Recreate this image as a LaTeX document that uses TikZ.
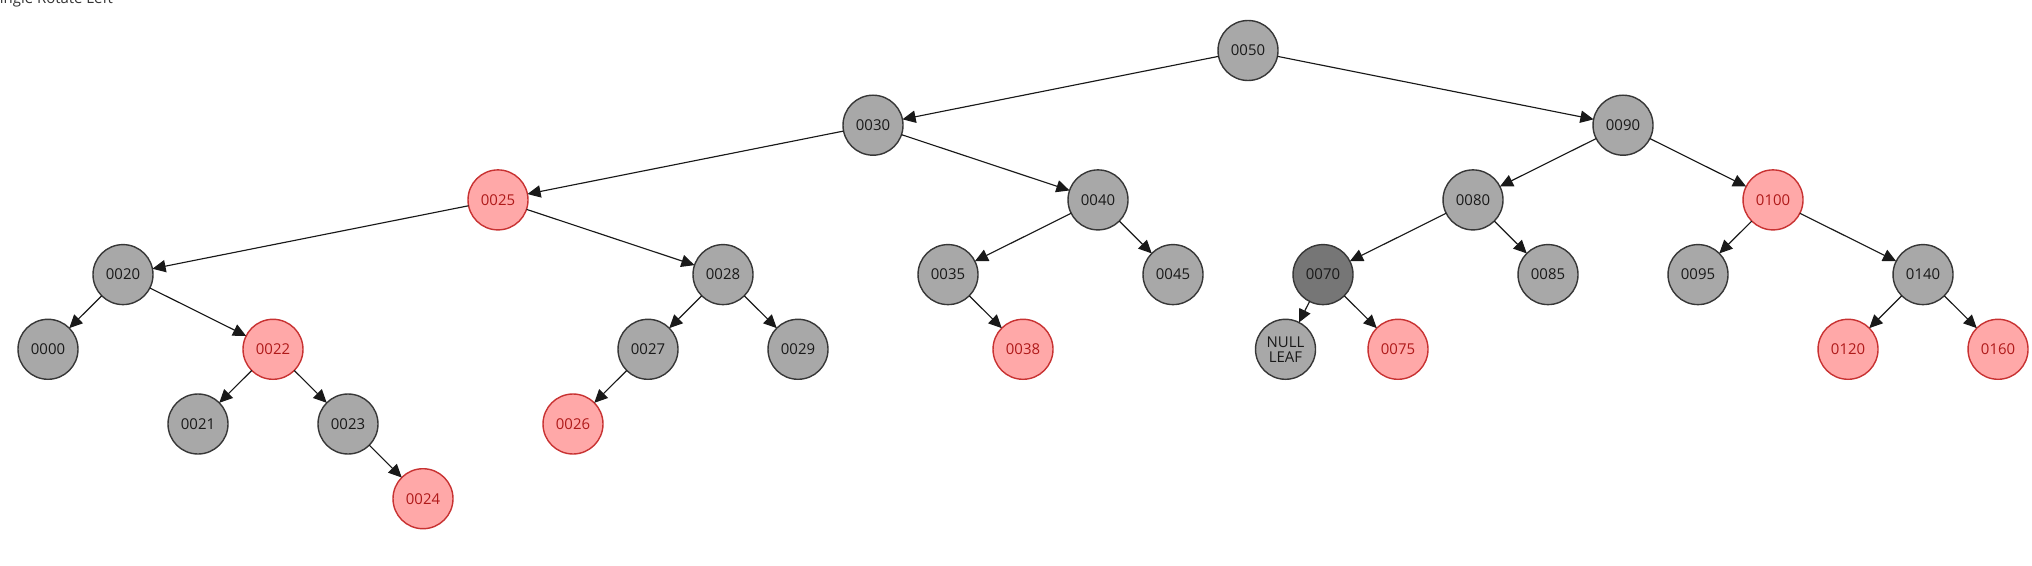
\documentclass[tikz,border=0pt]{standalone}
\usepackage{fontspec}
\setmainfont{Open Sans}
\usepackage{xcolor}
\usepackage{tikz}
\usetikzlibrary{positioning,arrows.meta}
\definecolor{nodeblk}{RGB}{168,168,168}
\definecolor{nodered}{RGB}{255,168,168}
\definecolor{nodecur}{RGB}{118,118,118}
\definecolor{edgeblk}{RGB}{55,55,55}
\definecolor{edgered}{RGB}{200,50,50}
\definecolor{textred}{RGB}{175,25,25}
\tikzset{
  blknode/.style = {circle, minimum size=1.2cm, inner sep=0pt, outer sep=0pt,
                    fill=nodeblk, draw=edgeblk, line width=0.8pt,
                    font=\fontsize{8.5}{9.5}\selectfont, text=black!90},
  rednode/.style = {circle, minimum size=1.2cm, inner sep=0pt, outer sep=0pt,
                    fill=nodered, draw=edgered, line width=0.8pt,
                    font=\fontsize{8.5}{9.5}\selectfont, text=textred},
  curnode/.style = {blknode, fill=nodecur},
  nilnode/.style = {blknode, align=center},
  treeedge/.style = {-{Triangle[length=7.5pt,width=7pt]}, line width=0.65pt, black!90}
}
\begin{document}
\begin{tikzpicture}[x=1.5cm, y=1.494cm]
  \useasboundingbox (-0.64,0.676) rectangle (26.453,-6.90);
  % Title (cut at the page edge, as in the source)
  \node[anchor=base east, inner sep=0pt, font=\fontsize{8.5}{9.5}\selectfont,
        text=black!80] (title) at (0.87,0.624) {Single Rotate Left};
  % Level 0
  \node[blknode] (n50)  at (16,0)  {0050};
  % Level 1
  \node[blknode] (n30)  at (11,-1) {0030};
  \node[blknode] (n90)  at (21,-1) {0090};
  % Level 2
  \node[rednode] (n25)  at (6,-2)  {0025};
  \node[blknode] (n40)  at (14,-2) {0040};
  \node[blknode] (n80)  at (19,-2) {0080};
  \node[rednode] (n100) at (23,-2) {0100};
  % Level 3
  \node[blknode] (n20)  at (1,-3)  {0020};
  \node[blknode] (n28)  at (9,-3)  {0028};
  \node[blknode] (n35)  at (12,-3) {0035};
  \node[blknode] (n45)  at (15,-3) {0045};
  \node[curnode] (n70)  at (17,-3) {0070};
  \node[blknode] (n85)  at (20,-3) {0085};
  \node[blknode] (n95)  at (22,-3) {0095};
  \node[blknode] (n140) at (25,-3) {0140};
  % Level 4
  \node[blknode] (n0)   at (0,-4)    {0000};
  \node[rednode] (n22)  at (3,-4)    {0022};
  \node[blknode] (n27)  at (8,-4)    {0027};
  \node[blknode] (n29)  at (10,-4)   {0029};
  \node[rednode] (n38)  at (13,-4)   {0038};
  \node[nilnode] (nil)  at (16.5,-4) {NULL\\[-1pt]LEAF};
  \node[rednode] (n75)  at (18,-4)   {0075};
  \node[rednode] (n120) at (24,-4)   {0120};
  \node[rednode] (n160) at (26,-4)   {0160};
  % Level 5
  \node[blknode] (n21)  at (2,-5) {0021};
  \node[blknode] (n23)  at (4,-5) {0023};
  \node[rednode] (n26)  at (7,-5) {0026};
  % Level 6
  \node[rednode] (n24)  at (5,-6) {0024};
  % Edges
  \draw[treeedge] (n50)--(n30);  \draw[treeedge] (n50)--(n90);
  \draw[treeedge] (n30)--(n25);  \draw[treeedge] (n30)--(n40);
  \draw[treeedge] (n90)--(n80);  \draw[treeedge] (n90)--(n100);
  \draw[treeedge] (n25)--(n20);  \draw[treeedge] (n25)--(n28);
  \draw[treeedge] (n40)--(n35);  \draw[treeedge] (n40)--(n45);
  \draw[treeedge] (n80)--(n70);  \draw[treeedge] (n80)--(n85);
  \draw[treeedge] (n100)--(n95); \draw[treeedge] (n100)--(n140);
  \draw[treeedge] (n20)--(n0);   \draw[treeedge] (n20)--(n22);
  \draw[treeedge] (n28)--(n27);  \draw[treeedge] (n28)--(n29);
  \draw[treeedge] (n35)--(n38);
  \draw[treeedge] (n70)--(nil);  \draw[treeedge] (n70)--(n75);
  \draw[treeedge] (n140)--(n120);\draw[treeedge] (n140)--(n160);
  \draw[treeedge] (n22)--(n21);  \draw[treeedge] (n22)--(n23);
  \draw[treeedge] (n27)--(n26);
  \draw[treeedge] (n23)--(n24);
\end{tikzpicture}
\end{document}
